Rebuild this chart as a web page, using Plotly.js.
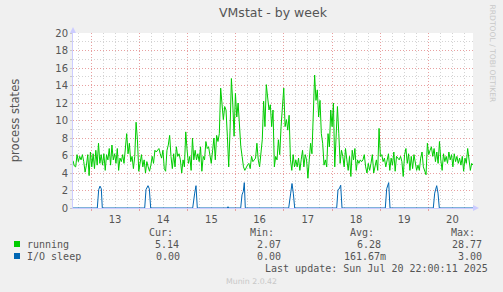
<!DOCTYPE html>
<html><head><meta charset="utf-8">
<script src="https://cdn.plot.ly/plotly-3.0.1.min.js"></script>
<style>html,body{margin:0;padding:0;background:#f0f0f0;}#chart{width:503px;height:292px;}</style>
</head><body><div id="chart"></div>
<script>
// ---- data ----
const dayLabels = ['13','14','15','16','17','18','19','20'];
const runningStart = 12.6266;   // day of July (fractional) of the first sample
const runningStep = 0.02785;    // days between samples
const running = [
5.4,4.8,4.7,6.1,5.3,5.9,5.5,6.1,5.3,4.1,4.9,6.1,3.7,6.4,4.7,6.2,4.5,6.6,4.9,7.4,5.1,6.1,4.9,6.2,4.3,6.1,5.5,6.8,4.9,7.2,5.5,6.2,5.1,6.8,4.3,5.7,5.3,6.1,5.1,7.4,8.5,6.2,7.4,5.3,5.9,4.5,5.9,9.8,7.8,4.2,5.1,6.1,4.7,5.5,4.0,5.3,4.7,4.2,4.9,5.9,5.1,6.6,6.4,6.6,6.8,6.2,5.7,6.6,4.5,4.2,6.6,7.2,8.3,5.9,4.5,6.2,
4.7,7.0,5.9,6.2,5.5,4.0,5.5,4.7,8.7,6.6,5.1,5.9,4.3,8.0,5.5,6.6,5.5,6.2,5.3,7.0,4.2,5.9,5.5,7.6,6.8,7.0,5.9,5.1,6.6,8.0,5.5,8.3,7.6,8.5,13.7,12.0,10.1,11.6,11.2,8.2,4.7,8.9,14.8,12.0,8.2,13.1,10.4,12.0,9.3,7.0,5.9,4.7,4.3,4.7,4.9,5.1,4.5,5.9,5.3,5.5,5.7,7.4,5.5,4.7,6.6,7.8,12.2,9.3,14.1,12.7,11.2,11.8,9.3,11.2,4.7,
5.9,5.5,7.8,6.1,9.3,11.6,13.7,9.3,10.1,8.9,10.6,5.5,4.3,6.1,4.7,5.5,4.7,5.7,4.3,5.5,6.6,4.7,6.1,5.5,3.4,5.5,7.4,6.2,10.1,15.2,12.3,13.5,10.4,12.3,8.5,7.4,4.9,5.5,4.7,8.5,7.0,11.2,9.3,12.0,4.7,9.3,11.6,8.5,5.1,6.6,5.9,4.7,6.8,5.5,4.3,5.9,3.6,6.6,5.5,6.8,4.3,5.5,5.1,5.5,5.3,5.5,6.1,4.7,4.0,5.1,4.3,5.1,6.1,4.0,4.7,
5.5,4.3,9.1,5.9,6.1,5.3,5.7,4.7,5.5,6.2,4.3,5.7,4.9,6.4,4.2,5.9,5.7,5.5,5.9,5.3,3.6,6.1,6.8,5.1,6.2,4.3,5.9,4.5,6.1,5.3,4.3,4.9,4.3,5.7,6.4,4.7,4.2,3.8,7.4,6.1,6.6,7.0,5.9,6.8,5.3,6.4,5.1,7.6,5.5,4.3,6.2,5.3,5.9,5.1,6.4,5.5,6.1,4.7,6.2,5.3,5.9,5.1,5.7,4.9,5.9,4.2,5.7,5.1,6.8,5.3,4.3,5.1,4.9
];
const ioTime = [12.6266,
13.1307,13.1598,13.1867,13.2137,13.2344,
14.1141,14.1411,14.1826,14.2095,14.2386,
15.1100,15.1515,15.1784,15.2054,
15.8278,15.8423,15.8568,
16.1058,16.1328,16.1598,16.1805,16.2012,
17.1017,17.1432,17.1701,17.1971,17.2261,
18.0975,18.1245,18.1515,18.1805,18.2075,
19.1058,19.1349,19.1618,19.1763,19.2033,
20.1017,20.1307,20.1722,20.1992,20.2261,
20.9253];
const ioSleep = [0,
0,2.1,2.5,2.2,0,
0,2.1,2.55,2.2,0,
0,1.7,2.55,0,
0,0.15,0,
0,1.5,1.9,2.9,0,
0,1.7,2.8,1.7,0,
0,2.1,2.2,2.6,0,
0,2.2,2.6,2.9,0,
0,1.7,2.55,1.7,0,
0];
const seriesNames = ['running','I/O sleep'];
const seriesColors = ['#00cc00','#0066b3'];
const statHeaders = ['Cur:','Min:','Avg:','Max:'];
const statCur = ['5.14','0.00'];
const statMin = ['2.07','0.00'];
const statAvg = ['6.28','161.67m'];
const statMax = ['28.77','3.00'];

// ---- layout helpers (pixel -> paper) ----
const L=73, R=473, T=33, B=208;
const px = x => (x-L)/(R-L);
const py = y => (B-y)/(B-T);
const txt = '#555';
const mono = 'DejaVu Sans Mono';

const traces = [
  {type:'scatter', mode:'lines', name:seriesNames[0], y:running, x0:runningStart, dx:runningStep,
   line:{color:seriesColors[0], width:1}, hoverinfo:'skip'},
  {type:'scatter', mode:'lines', name:seriesNames[1], x:ioTime, y:ioSleep,
   line:{color:seriesColors[1], width:1}, hoverinfo:'skip'}
];

const ann = [];
const colRight = [174,275,375,476];
statHeaders.forEach((h,i)=>ann.push({text:h, x:px(colRight[i]), y:py(232), xanchor:'right', yanchor:'middle'}));
const valRight = [[180,282,382,483],[181,282,387,483]];
[0,1].forEach(r=>{
  const yy = r===0?244:256;
  ann.push({text:seriesNames[r], x:px(26), y:py(yy), xanchor:'left', yanchor:'middle'});
  [statCur[r],statMin[r],statAvg[r],statMax[r]].forEach((v,i)=>ann.push({text:v, x:px(valRight[r][i]), y:py(yy), xanchor:'right', yanchor:'middle'}));
});
ann.push({text:'Last update: Sun Jul 20 22:00:11 2025', x:px(489), y:py(268), xanchor:'right', yanchor:'middle'});
ann.forEach(a=>{a.xref='paper';a.yref='paper';a.showarrow=false;a.font={family:mono,size:10,color:txt};a.borderpad=0;});
ann.push({text:'Munin 2.0.42', xref:'paper', yref:'paper', x:px(251.5), y:py(281), xanchor:'center', yanchor:'middle', showarrow:false, borderpad:0, font:{family:'DejaVu Sans', size:7.8, color:'#c8c8c8'}});
ann.push({text:'RRDTOOL / TOBI OETIKER', xref:'paper', yref:'paper', x:px(492.5), y:py(54), xanchor:'center', yanchor:'middle', textangle:90, showarrow:false, borderpad:0, font:{family:'DejaVu Sans', size:7.6, color:'#c8c8c8'}});

const shapes = [];
[0,1].forEach(r=>{
  const yy = r===0?244:256;
  shapes.push({type:'rect', xref:'paper', yref:'paper', x0:px(14), x1:px(20), y0:py(yy-3), y1:py(yy+3), fillcolor:seriesColors[r], line:{width:0}});
});
// axis arrows
shapes.push({type:'path', xref:'paper', yref:'paper', path:`M ${px(70)} ${py(33)} L ${px(76)} ${py(33)} L ${px(73)} ${py(27)} Z`, fillcolor:'#ccccff', line:{width:0}});
shapes.push({type:'path', xref:'paper', yref:'paper', path:`M ${px(473)} ${py(205)} L ${px(473)} ${py(211)} L ${px(479)} ${py(208)} Z`, fillcolor:'#ccccff', line:{width:0}});

const layout = {
  width:503, height:292,
  margin:{l:L, r:503-R, t:T, b:292-B, pad:0},
  paper_bgcolor:'#f0f0f0', plot_bgcolor:'#ffffff',
  showlegend:false,
  title:{text:'VMstat - by week', x:0.5, xref:'paper', xanchor:'center', y:1-13/292, yref:'container', yanchor:'middle',
         font:{family:'DejaVu Sans', size:12.5, color:txt}},
  xaxis:{range:[runningStart, runningStart + (R-L)/48.2], tickmode:'array', tickvals:dayLabels.map(Number), ticktext:dayLabels,
         ticklabelshift:24, showgrid:true, gridcolor:'#e8a0a0', griddash:'1px,2px', gridwidth:1,
         ticks:'outside', ticklen:2, tickcolor:'#e8a0a0', tickfont:{family:'DejaVu Sans', size:10, color:txt},
         minor:{tickmode:'linear', tick0:13, dtick:0.25, showgrid:true, gridcolor:'#d4d4d4', griddash:'1px,2px', gridwidth:1, ticks:''},
         showline:true, linecolor:'#ccccff', linewidth:1, zeroline:false, fixedrange:true},
  yaxis:{range:[0,20], tickmode:'linear', tick0:0, dtick:2, showgrid:true, gridcolor:'#e8a0a0', griddash:'1px,2px', gridwidth:1,
         ticks:'outside', ticklen:2, tickcolor:'#c8c8c8', tickfont:{family:'DejaVu Sans', size:10, color:txt},
         minor:{tickmode:'linear', tick0:0, dtick:1, showgrid:true, gridcolor:'#d4d4d4', griddash:'1px,2px', gridwidth:1, ticks:'outside', ticklen:2, tickcolor:'#c8c8c8'},
         showline:true, linecolor:'#ccccff', linewidth:1, zeroline:false, fixedrange:true,
         title:{text:'process states', standoff:33, font:{family:'DejaVu Sans', size:11.6, color:txt}}},
  annotations:ann,
  shapes:shapes
};
Plotly.newPlot('chart', traces, layout, {staticPlot:true, displayModeBar:false});
</script></body></html>
